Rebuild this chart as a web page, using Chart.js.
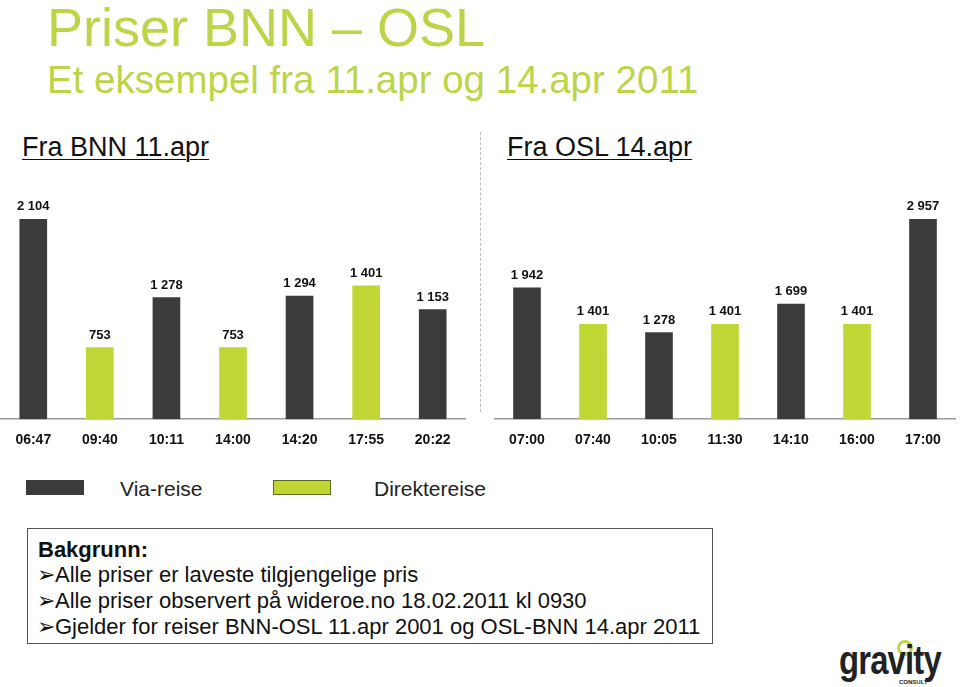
<!DOCTYPE html>
<html>
<head>
<meta charset="utf-8">
<script src="https://cdn.jsdelivr.net/npm/chart.js@4"></script>
<style>
  body { margin: 0; background: #fff; font-family: "Liberation Sans", Arial, sans-serif; }
  #page { position: relative; width: 960px; height: 687px; overflow: hidden; }
  .abs { position: absolute; white-space: nowrap; }
  .title { left: 47px; top: -4px; font-size: 54px; color: #bcd548; }
  .sub { left: 47px; top: 58px; font-size: 38.5px; color: #bcd548; }
  .head { font-size: 27px; color: #111; text-decoration: underline; text-decoration-thickness: 1px; text-underline-offset: 3px; }
  .sep { left: 480px; top: 132px; height: 280px; border-left: 1px dashed #bbb; }
  .swatch { width: 58px; height: 15px; }
  .leg { font-size: 21px; color: #222; }
  .box { left: 27px; top: 528px; width: 686px; height: 116px; border: 1px solid #555; box-sizing: border-box; }
  .box div { font-size: 22px; line-height: 26px; color: #111; }
  .logo { left: 839px; top: 638px; font-size: 40px; font-weight: bold; color: #222; transform: scaleX(0.82); transform-origin: left top; letter-spacing: -1px; }
</style>
</head>
<body>
<div id="page">
  <div class="abs title">Priser BNN – OSL</div>
  <div class="abs sub">Et eksempel fra 11.apr og 14.apr 2011</div>
  <div class="abs head" style="left:22px; top:132px;">Fra BNN 11.apr</div>
  <div class="abs head" style="left:507px; top:132px;">Fra OSL 14.apr</div>
  <div class="abs sep"></div>

  <div class="abs" style="left:0px; top:190px; width:466px; height:272px;"><canvas id="chartBNN"></canvas></div>
  <div class="abs" style="left:494px; top:190px; width:462px; height:272px;"><canvas id="chartOSL"></canvas></div>

  <div class="abs swatch" style="left:26px; top:480px; background:#3b3b3b;"></div>
  <div class="abs leg" style="left:120px; top:477px;">Via-reise</div>
  <div class="abs swatch" style="left:273px; top:480px; background:#bfd634; border:1px solid #5c6a1e; box-sizing:border-box;"></div>
  <div class="abs leg" style="left:374px; top:477px;">Direktereise</div>

  <div class="abs box">
    <div style="position:absolute; left:10px; top:8px; font-weight:bold;">Bakgrunn:</div>
    <div style="position:absolute; left:9px; top:33px;">➢Alle priser er laveste tilgjengelige pris</div>
    <div style="position:absolute; left:9px; top:59px;">➢Alle priser observert på wideroe.no 18.02.2011 kl 0930</div>
    <div style="position:absolute; left:9px; top:85px;">➢Gjelder for reiser BNN-OSL 11.apr 2001 og OSL-BNN 14.apr 2011</div>
  </div>

  <div class="abs" style="left:897px; top:640px; width:10px; height:10px; border:3px solid #bcd548; border-radius:50%;"></div>
  <div class="abs logo">gravity</div>
  <div class="abs" style="left:899px; top:679px; font-size:6px; font-weight:bold; color:#222;">CONSULT</div>
</div>

<script>
// Fra BNN 11.apr
const bnnTimes = ["06:47", "09:40", "10:11", "14:00", "14:20", "17:55", "20:22"];
const bnnPrices = [2104, 753, 1278, 753, 1294, 1401, 1153];
const bnnType = ["via", "direkte", "via", "direkte", "via", "direkte", "via"];

// Fra OSL 14.apr
const oslTimes = ["07:00", "07:40", "10:05", "11:30", "14:10", "16:00", "17:00"];
const oslPrices = [1942, 1401, 1278, 1401, 1699, 1401, 2957];
const oslType = ["via", "direkte", "via", "direkte", "via", "direkte", "via"];

const farger = { via: "#3b3b3b", direkte: "#bfd634" };

// tall med mellomrom som tusenskille, "2 104"
function formatPris(v) {
  return String(v).replace(/\B(?=(\d{3})+(?!\d))/g, " ");
}

const verdiEtiketter = {
  id: "verdiEtiketter",
  afterDatasetsDraw(chart) {
    const ctx = chart.ctx;
    const meta = chart.getDatasetMeta(0);
    const data = chart.data.datasets[0].data;
    ctx.save();
    ctx.font = "bold 13px 'Liberation Sans', Arial, sans-serif";
    ctx.fillStyle = "#111";
    ctx.textAlign = "center";
    ctx.textBaseline = "bottom";
    meta.data.forEach((bar, i) => {
      ctx.fillText(formatPris(data[i]), bar.x, bar.y - 6);
    });
    ctx.restore();
  },
};

function lagGraf(id, tider, priser, typer) {
  const ctx = document.getElementById(id).getContext("2d");
  return new Chart(ctx, {
    type: "bar",
    data: {
      labels: tider,
      datasets: [
        {
          data: priser,
          backgroundColor: typer.map((t) => farger[t]),
          barThickness: 27,
        },
      ],
    },
    options: {
      responsive: true,
      maintainAspectRatio: false,
      animation: false,
      layout: { padding: { top: 29, left: 0, right: 0, bottom: 0 } },
      plugins: { legend: { display: false }, tooltip: { enabled: false } },
      scales: {
        x: {
          grid: { display: false, drawTicks: false },
          border: { display: true, color: "#9a9a9a", width: 1.5 },
          ticks: {
            padding: 13,
            color: "#111",
            font: { family: "'Liberation Sans', Arial, sans-serif", size: 14, weight: "bold" },
          },
        },
        y: {
          display: false,
          min: 0,
          max: Math.max(...priser),
        },
      },
    },
    plugins: [verdiEtiketter],
  });
}

lagGraf("chartBNN", bnnTimes, bnnPrices, bnnType);
lagGraf("chartOSL", oslTimes, oslPrices, oslType);
</script>
</body>
</html>
